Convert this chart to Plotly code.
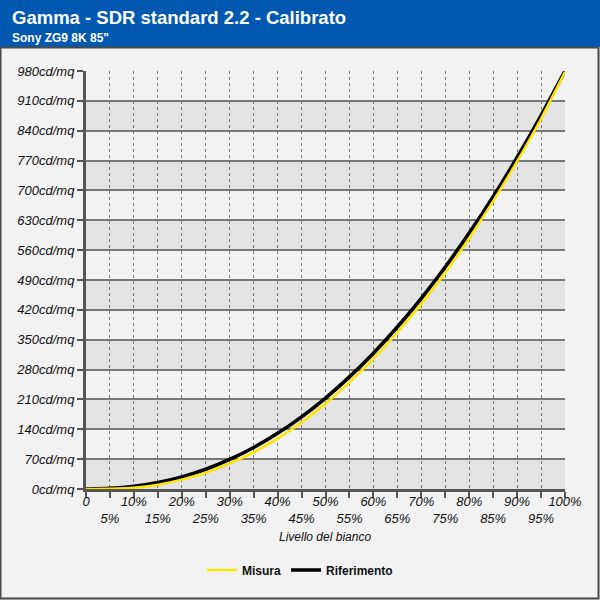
import plotly.graph_objects as go

# ---- data ----
livello = [0, 5, 10, 15, 20, 25, 30, 35, 40, 45, 50, 55, 60, 65, 70, 75, 80, 85, 90, 95, 100]
misura = [0, 0.5, 3, 10, 22, 38, 60, 86, 118, 156, 200, 250, 305, 367, 434, 507, 588, 675, 768, 868, 978]
riferimento = [0, 1.4, 6.2, 15.1, 28.4, 46.4, 69.3, 97.3, 130.5, 169.1, 213.3, 263.0, 318.5, 379.8,
               447.2, 520.5, 599.9, 685.4, 777.2, 875.5, 980]
y_ticks = list(range(0, 981, 70))
y_ticktext = [f"{v}cd/mq" for v in y_ticks]
x_ticks = list(range(0, 101, 5))
x_ticktext = [("0" if v == 0 else f"{v}%") if v % 10 == 0 else f"<br>{v}%" for v in x_ticks]

title = "Gamma - SDR standard 2.2 - Calibrato"
subtitle = 'Sony ZG9 8K 85"'

# ---- layout geometry helpers (pixels -> paper) ----
L, R, T, B = 86, 565, 71, 489
def px(x):
    return (x - L) / (R - L)
def py(y):
    return (B - y) / (B - T)

font = "Liberation Sans, Arial, sans-serif"

fig = go.Figure()
fig.add_trace(go.Scatter(x=livello, y=riferimento, name="Riferimento", mode="lines",
                         line=dict(color="#000000", width=3.6, shape="spline", smoothing=0.6)))
fig.add_trace(go.Scatter(x=livello, y=misura, name="Misura", mode="lines",
                         line=dict(color="#ffe400", width=2.5, shape="spline", smoothing=0.6)))

shapes = []
# header band
shapes.append(dict(type="rect", xref="paper", yref="paper", x0=px(0), x1=px(600), y0=py(47), y1=py(0),
                   fillcolor="#0058b0", line=dict(width=0), layer="below"))
# frame
shapes.append(dict(type="rect", xref="paper", yref="paper", x0=px(0.5), x1=px(598.5), y0=py(598.5), y1=py(47.5),
                   fillcolor="rgba(0,0,0,0)", line=dict(color="#4a4a4a", width=2), layer="below"))
# alternating bands
for i in range(0, len(y_ticks) - 1):
    if i % 2 == 0:
        shapes.append(dict(type="rect", xref="x", yref="y", x0=0, x1=100, y0=y_ticks[i], y1=y_ticks[i + 1],
                           fillcolor="#e3e3e3", line=dict(width=0), layer="below"))

fig.update_layout(
    width=600, height=600,
    margin=dict(l=L, r=600 - R, t=T, b=600 - B),
    paper_bgcolor="#f2f2f2", plot_bgcolor="#f2f2f2",
    font=dict(family=font, color="#111111"),
    shapes=shapes,
    showlegend=True,
    legend=dict(orientation="h", x=px(300), xanchor="center", y=py(570), yanchor="middle",
                font=dict(size=12, family=font, color="#111111", weight="bold"),
                traceorder="reversed", bgcolor="rgba(0,0,0,0)", itemwidth=30),
    annotations=[
        dict(text=f"<b>{title}</b>", xref="paper", yref="paper", x=px(10), y=py(18),
             xanchor="left", yanchor="middle", showarrow=False,
             font=dict(size=18.5, color="white", family=font)),
        dict(text=f"<b>{subtitle}</b>", xref="paper", yref="paper", x=px(10), y=py(38),
             xanchor="left", yanchor="middle", showarrow=False,
             font=dict(size=12, color="white", family=font)),
        dict(text="<i>Livello del bianco</i>", xref="paper", yref="paper", x=px(325), y=py(537),
             xanchor="center", yanchor="middle", showarrow=False,
             font=dict(size=12, color="#111111", family=font)),
    ],
)

fig.update_xaxes(range=[0, 100], tickvals=x_ticks, ticktext=x_ticktext, tickangle=0,
                 tickfont=dict(size=13, family=font, style="italic", color="#111111"),
                 ticks="outside", ticklen=6, tickwidth=2, tickcolor="#555555",
                 ticklabelstandoff=-8,
                 showline=True, linecolor="#555555", linewidth=3, automargin=False,
                 showgrid=True, gridcolor="#777777", griddash="dot", gridwidth=1,
                 zeroline=False, fixedrange=True)
fig.update_yaxes(range=[0, 980], tickvals=y_ticks, ticktext=y_ticktext,
                 tickfont=dict(size=13, family=font, style="italic", color="#111111"),
                 ticks="outside", ticklen=6, tickwidth=2, tickcolor="#555555",
                 showline=True, linecolor="#555555", linewidth=3, automargin=False,
                 showgrid=True, gridcolor="#777777", gridwidth=1.5,
                 zeroline=False, fixedrange=True)

fig.write_html("out.html", config={"displayModeBar": False},
               post_script="document.body.style.margin='0';")
